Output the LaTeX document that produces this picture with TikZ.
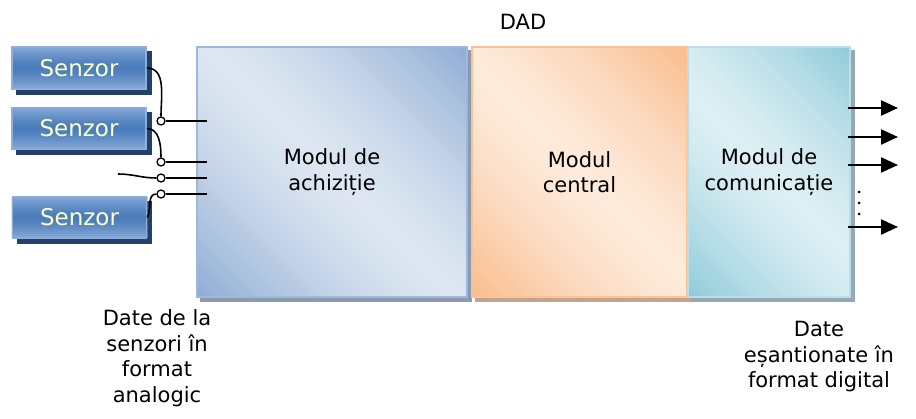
\documentclass[tikz,border=0pt]{standalone}
\usepackage{fontspec}
\setmainfont{DejaVu Sans}
\usetikzlibrary{arrows.meta,backgrounds}
\definecolor{acqdark}{HTML}{8EACD4}
\definecolor{acqlight}{HTML}{DDE6F1}
\definecolor{acqline}{HTML}{9DB8DC}
\definecolor{acqshade}{HTML}{8A9BB0}
\definecolor{cendark}{HTML}{F9BC8A}
\definecolor{cenlight}{HTML}{FDEADB}
\definecolor{cenline}{HTML}{F8C295}
\definecolor{censhade}{HTML}{C4A48C}
\definecolor{comdark}{HTML}{8FCAD9}
\definecolor{comlight}{HTML}{DCEFF4}
\definecolor{comline}{HTML}{B9DFE9}
\definecolor{comshade}{HTML}{96A8B2}
\definecolor{sentop}{HTML}{8AABD8}
\definecolor{senmid}{HTML}{4A7DBB}
\definecolor{senline}{HTML}{8EAFDB}
\definecolor{senshade}{HTML}{22406A}
\definecolor{sentext}{HTML}{FFFFCC}

% banded fill of a node: #1 node, #2 band direction, #3 half extent,
% #4 colour at the ends, #5 colour in the middle
\newcommand{\verlaj}[5]{%
  \begin{scope}
    \clip (#1.south west) rectangle (#1.north east);
    \begin{scope}[shift={(#1.center)}, rotate=#2]
      \foreach \k in {-30,...,29} {
        \pgfmathtruncatemacro{\m}{100*(abs(\k+0.5)/30)^1.4}
        \fill[#4!\m!#5] ({\k*#3/30}, -400) rectangle ({(\k+1)*#3/30+0.6}, 400);
      }
    \end{scope}
  \end{scope}}

\begin{document}
\begin{tikzpicture}[
  x=1pt, y=1pt,
  font=\fontsize{21}{25.5}\selectfont,
  modul/.style  = {line width=1.5pt, align=center, minimum height=250pt, inner sep=0pt},
  acq/.style    = {modul, draw=acqline},
  cen/.style    = {modul, draw=cenline},
  com/.style    = {modul, draw=comline},
  senzor/.style = {draw=senline, line width=1.5pt, minimum width=134pt, minimum height=42pt,
                   inner sep=0pt, text=sentext, font=\fontsize{23}{26}\selectfont},
  pin/.style    = {circle, draw, fill=white, line width=1.3pt, minimum size=8pt, inner sep=0pt},
  wire/.style   = {line width=1.6pt},
  iesire/.style = {line width=2.4pt, -{Triangle[length=17pt,width=15pt]}},
  lbl/.style    = {align=center, inner sep=0pt},
]
\useasboundingbox (0,0) rectangle (916,-419);

% ---- the three modules --------------------------------------------------
\node[acq, minimum width=270pt] at (332,-172) (acq) {Modul de\\achiziție};
\node[cen, minimum width=215pt] at (579.5,-172) (cen) {Modul\\central};
\node[com, minimum width=162pt] at (769,-172) (com) {Modul de\\comunicație};

\node[lbl] at (523,-22) (dad) {DAD};

% ---- sensors ------------------------------------------------------------
\node[senzor] at (79,-68)      (s1) {Senzor};
\node[senzor] at (79,-128.5)   (s2) {Senzor};
\node[senzor] at (79.5,-217.5) (s3) {Senzor};

% ---- offset shadows and fills behind the boxes --------------------------
\begin{scope}[on background layer]
  \foreach \b/\c in {acq/acqshade, cen/censhade, com/comshade}
    \fill[\c] ([shift={(4pt,-4pt)}]\b.south west) rectangle ([shift={(4pt,-4pt)}]\b.north east);
  \foreach \b in {s1,s2,s3}
    \fill[senshade] ([shift={(5pt,-5pt)}]\b.south west) rectangle ([shift={(5pt,-5pt)}]\b.north east);
  \verlaj{acq}{45}{184}{acqdark}{acqlight}
  \verlaj{cen}{45}{165}{cendark}{cenlight}
  \verlaj{com}{45}{146}{comdark}{comlight}
  \foreach \b in {s1,s2,s3} {\verlaj{\b}{90}{21}{sentop}{senmid}}
\end{scope}

% ---- input pins and wires -----------------------------------------------
\node[pin] at (161,-121) (c1) {};
\node[pin] at (161,-162) (c2) {};
\node[pin] at (161,-178) (c3) {};
\node[pin] at (161,-194) (c4) {};

\coordinate (in1) at (207,-121);
\coordinate (in2) at (207,-162);
\coordinate (in3) at (207,-178);
\coordinate (in4) at (207,-194);
\coordinate (liber) at (118,-174);

\draw[wire] (s1.east) to[out=0,in=90] (c1.north);
\draw[wire] (s2.east) to[out=0,in=90] (c2.north);
\draw[wire] (liber) to[out=0,in=180] (c3.west);
\draw[wire] (s3.east) to[out=60,in=180] (c4.west);
\foreach \i in {1,...,4}
  \draw[wire] (c\i.east) -- (in\i);

% ---- outputs ------------------------------------------------------------
\foreach \y [count=\i] in {-108,-137,-165,-227} {
  \coordinate (o\i) at (898,\y);
  \draw[iesire] ([xshift=-3pt]com.east |- o\i) -- (o\i);
}
\foreach \y in {-192,-203,-214}
  \fill (859,\y) circle (1.5pt);

% ---- captions -----------------------------------------------------------
\node[lbl] at (157,-358) (intrare) {Date de la\\senzori în\\format\\analogic};
\node[lbl] at (819,-357) (iesire) {Date\\eșantionate în\\format digital};

\end{tikzpicture}
\end{document}
